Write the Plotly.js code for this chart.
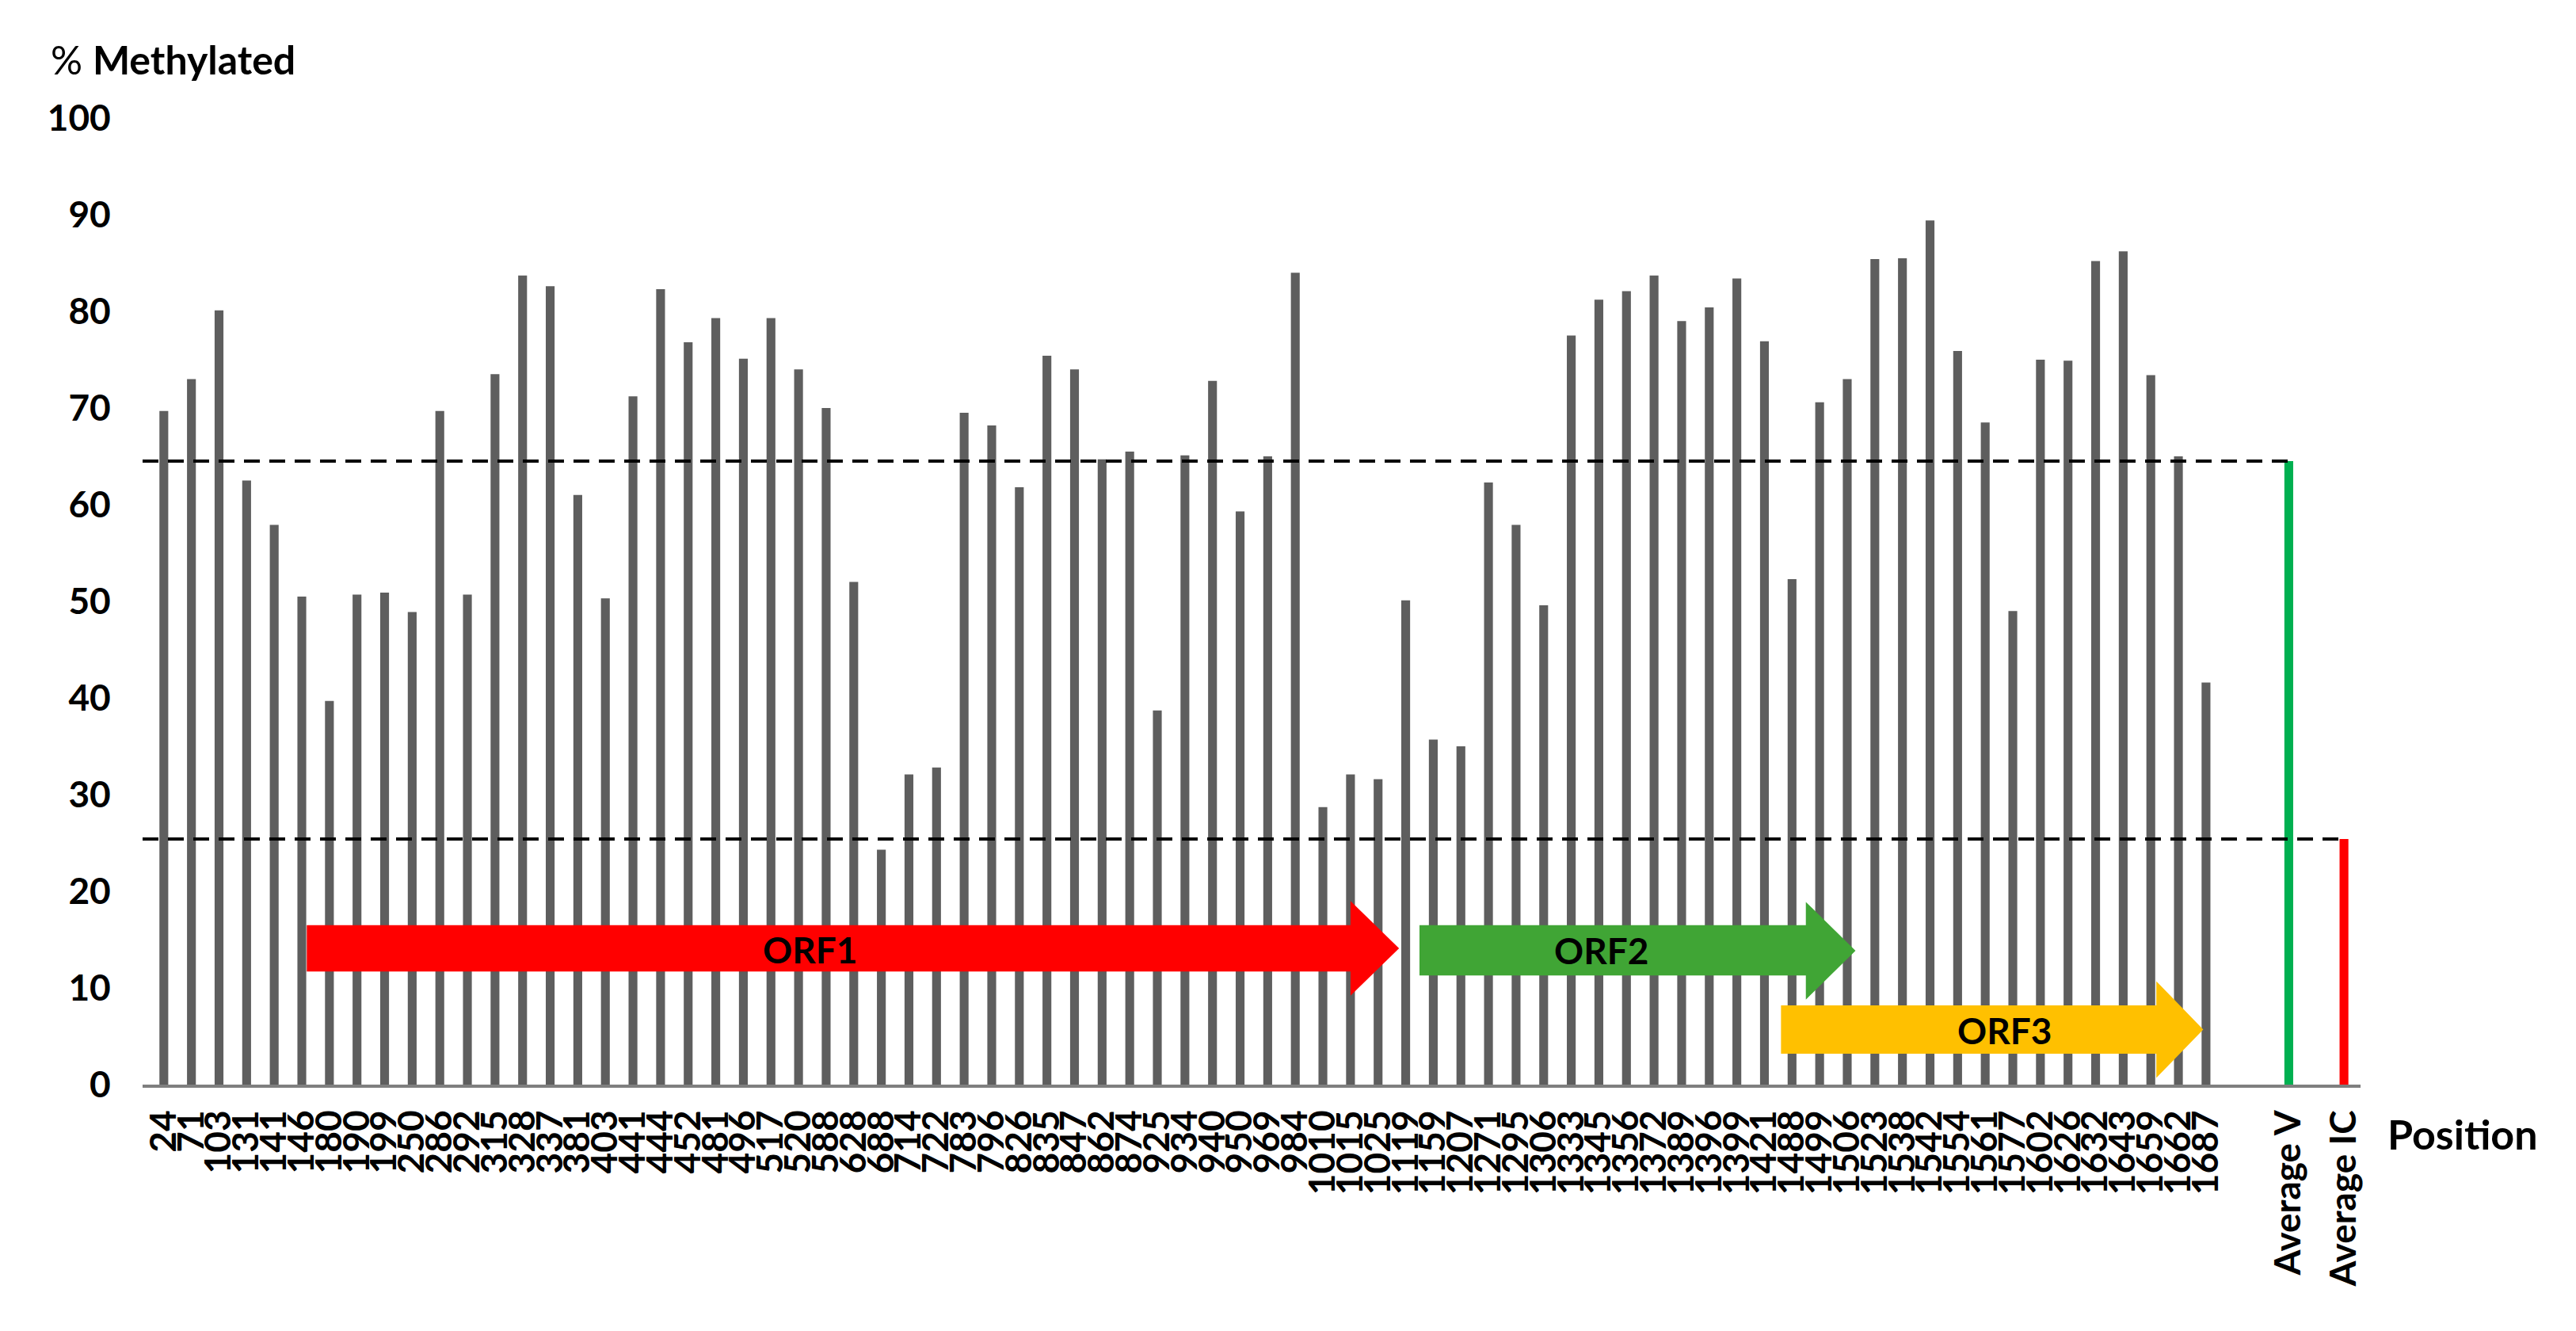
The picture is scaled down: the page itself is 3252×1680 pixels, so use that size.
<!DOCTYPE html>
<html>
<head>
<meta charset="utf-8">
<script src="https://cdn.plot.ly/plotly-3.0.1.min.js"></script>
<style>
html, body { margin: 0; padding: 0; background: #ffffff; }
#chart { width: 3252px; height: 1680px; }
</style>
</head>
<body>
<div id="chart"></div>
<script>
// ---------- data ----------
const positions = ["24","71","103","131","141","146","180","190","199","250",
  "286","292","315","328","337","381","403","441","444","452",
  "481","496","517","520","588","628","688","714","722","783",
  "796","826","835","847","862","874","925","934","940","950",
  "969","984","1010","1015","1025","1119","1159","1207","1271","1295",
  "1306","1333","1345","1356","1372","1389","1396","1399","1421","1488",
  "1499","1506","1523","1538","1542","1554","1561","1577","1602","1626",
  "1632","1643","1659","1662","1687"];
const methylated = [69.7,73.0,80.1,62.5,57.9,50.5,39.7,50.7,50.9,48.9,
  69.7,50.7,73.5,83.7,82.6,61.0,50.3,71.2,82.3,76.8,
  79.3,75.1,79.3,74.0,70.0,52.0,24.3,32.1,32.8,69.5,
  68.2,61.8,75.4,74.0,64.7,65.5,38.7,65.1,72.8,59.3,
  65.0,84.0,28.7,32.1,31.6,50.1,35.7,35.0,62.3,57.9,
  49.6,77.5,81.2,82.1,83.7,79.0,80.4,83.4,76.9,52.3,
  70.6,73.0,85.4,85.5,89.4,75.9,68.5,49.0,75.0,74.9,
  85.2,86.2,73.4,65.0,41.6];
const averageLabels = ["Average V", "Average IC"];
const averageValues = [64.5, 25.4];
const orfNames = ["ORF1", "ORF2", "ORF3"];
const yTicks = [0,10,20,30,40,50,60,70,80,90,100];

// ---------- geometry / style ----------
const FONT = "Lato, 'Open Sans', sans-serif";
const n = positions.length;
const avgX = [n + 2, n + 4];               // two empty slots before each average
const xRange = [-0.77, n + 4.6];

const barX = positions.map((_, i) => i).concat(avgX);
const barY = methylated.concat(averageValues);
const barColors = positions.map(() => "#5e5e5e").concat(["#00b050", "#ff0000"]);

const tickvals = barX;
const ticktext = positions.concat(averageLabels).map(t => "<b>" + t + "</b>");

const traces = [
  {
    type: "bar", x: barX, y: barY, width: 0.32,
    marker: { color: barColors, line: { width: 0 } },
    hoverinfo: "x+y", showlegend: false
  },
  {
    type: "scatter", mode: "lines",
    x: [xRange[0], avgX[0]], y: [averageValues[0], averageValues[0]],
    line: { color: "#000000", width: 4, dash: "20px,12px" },
    showlegend: false, hoverinfo: "skip"
  },
  {
    type: "scatter", mode: "lines",
    x: [xRange[0], avgX[1]], y: [averageValues[1], averageValues[1]],
    line: { color: "#000000", width: 4, dash: "20px,12px" },
    showlegend: false, hoverinfo: "skip"
  }
];

// ORF arrows (x in category-slot units, y in % units)
const arrows = [
  { x0: 5.18, xh: 43.0, x1: 44.76, b0: 11.7, b1: 16.5, h0: 9.2, h1: 19.0, color: "#ff0000", lx: 23.4, ly: 14.0 },
  { x0: 45.5, xh: 59.5, x1: 61.3, b0: 11.3, b1: 16.5, h0: 8.8, h1: 18.9, color: "#40a535", lx: 52.1, ly: 13.9 },
  { x0: 58.6, xh: 72.2, x1: 73.9, b0: 3.2, b1: 8.2, h0: 0.7, h1: 10.7, color: "#ffc000", lx: 66.7, ly: 5.6 }
];
const shapes = arrows.map(a => ({
  type: "path", xref: "x", yref: "y", layer: "above",
  path: `M ${a.x0},${a.b0} L ${a.xh},${a.b0} L ${a.xh},${a.h0} L ${a.x1},${(a.h0 + a.h1) / 2} ` +
        `L ${a.xh},${a.h1} L ${a.xh},${a.b1} L ${a.x0},${a.b1} Z`,
  fillcolor: a.color, line: { width: 0 }
}));
const annotations = arrows.map((a, i) => ({
  x: a.lx, y: a.ly, xref: "x", yref: "y", showarrow: false,
  text: "<b>" + orfNames[i] + "</b>",
  font: { family: FONT, size: 46, color: "#000000" }
}));
annotations.push({
  x: 62, y: 75, xref: "pixel", yref: "pixel", showarrow: false,
  xanchor: "left", yanchor: "middle",
  text: "% <b>Methylated</b>",
  font: { family: FONT, size: 50, color: "#000000" }
});
annotations.push({
  x: 3012, y: 1431, xref: "pixel", yref: "pixel", showarrow: false,
  xanchor: "left", yanchor: "middle",
  text: "<b>Position</b>",
  font: { family: FONT, size: 52, color: "#000000" }
});

// convert pixel refs to paper refs
const W = 3252, H = 1680;
const M = { l: 180, r: 272, t: 149, b: 311 };
annotations.forEach(an => {
  if (an.xref === "pixel") {
    an.xref = "paper"; an.x = (an.x - M.l) / (W - M.l - M.r);
  }
  if (an.yref === "pixel") {
    an.yref = "paper"; an.y = (H - M.b - an.y) / (H - M.t - M.b);
  }
});

const layout = {
  width: W, height: H,
  margin: M,
  paper_bgcolor: "#ffffff", plot_bgcolor: "#ffffff",
  font: { family: FONT, color: "#000000" },
  showlegend: false,
  xaxis: {
    range: xRange, tickmode: "array", tickvals: tickvals, ticktext: ticktext,
    tickangle: -90, tickfont: { family: FONT, size: 46, color: "#000000" },
    showline: true, linecolor: "#7f7f7f", linewidth: 4,
    showgrid: false, zeroline: false,
    ticks: "outside", ticklen: 10, tickcolor: "rgba(0,0,0,0)"
  },
  yaxis: {
    range: [0, 100], tickmode: "array", tickvals: yTicks,
    ticktext: yTicks.map(v => "<b>" + v + "</b>"),
    tickfont: { family: FONT, size: 46, color: "#000000" },
    showline: false, showgrid: false, zeroline: false,
    ticks: "outside", ticklen: 30, tickcolor: "rgba(0,0,0,0)"
  },
  shapes: shapes,
  annotations: annotations
};

Plotly.newPlot("chart", traces, layout, { staticPlot: true, displayModeBar: false });
</script>
</body>
</html>
